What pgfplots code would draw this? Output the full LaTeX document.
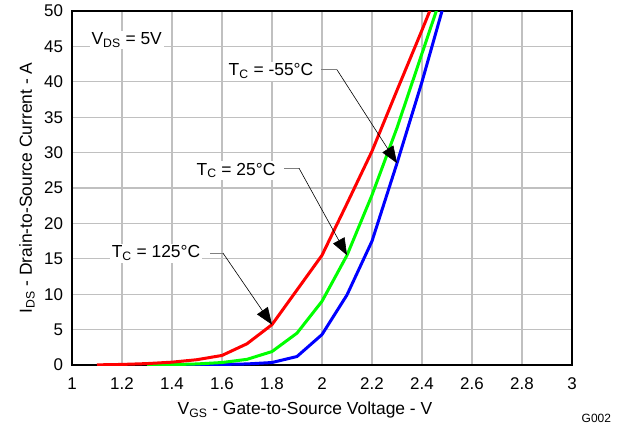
\documentclass[border=0pt]{standalone}
\usepackage{fontspec}
\setmainfont{Liberation Sans}
\usepackage{pgfplots}
\pgfplotsset{compat=1.18}
\usetikzlibrary{arrows.meta}
\definecolor{gridgray}{RGB}{192,192,192}
\definecolor{cred}{RGB}{255,0,0}
\definecolor{cgreen}{RGB}{0,255,0}
\definecolor{cblue}{RGB}{0,0,255}
\begin{document}
\fontsize{17.5}{20}\selectfont
\begin{tikzpicture}
\begin{axis}[
  name=ax,
  scale only axis, width=500bp, height=354bp,
  xmin=1, xmax=3, ymin=0, ymax=50,
  xtick={1,1.2,1.4,1.6,1.8,2,2.2,2.4,2.6,2.8,3},
  ytick={0,5,10,15,20,25,30,35,40,45,50},
  /pgf/number format/assume math mode=true,
  xticklabel={\pgfmathprintnumber[fixed,precision=1]{\tick}},
  grid=major, major grid style={gridgray, line width=1.2bp},
  major tick length=0pt,
  axis line style={black, line width=2.2bp},
  tick label style={font=\fontsize{17}{20}\selectfont},
  xticklabel style={yshift=-7bp},
  yticklabel style={xshift=-3bp},
  xlabel={V\textsubscript{GS} - Gate-to-Source Voltage - V},
  ylabel={I\textsubscript{DS} - Drain-to-Source Current - A},
  every axis x label/.style={at={(rel axis cs:0.5,0)}, anchor=center, yshift=-45bp, xshift=-17bp},
  every axis y label/.style={at={(rel axis cs:0,0.5)}, xshift=-45bp, rotate=90, anchor=center},
  label style={font=\fontsize{17.5}{20}\selectfont},
  clip=true,
]
\addplot[cblue, line width=3bp] coordinates {
(1.3,0.01)(1.4,0.02)(1.5,0.04)(1.6,0.08)(1.7,0.15)(1.8,0.35)(1.9,1.2)(2.0,4.3)(2.1,9.9)(2.2,17.5)(2.3,28.5)(2.4,40.0)(2.5,52.5)};
\addplot[cgreen, line width=3bp] coordinates {
(1.3,0.02)(1.4,0.05)(1.5,0.15)(1.6,0.35)(1.7,0.8)(1.8,1.9)(1.9,4.5)(2.0,9.0)(2.1,15.5)(2.2,24.0)(2.3,33.5)(2.4,44.0)(2.5,54.5)};
\addplot[cred, line width=3bp] coordinates {
(1.1,0.02)(1.2,0.08)(1.3,0.2)(1.4,0.4)(1.5,0.75)(1.6,1.35)(1.7,3.0)(1.8,5.7)(1.9,10.6)(2.0,15.5)(2.1,22.8)(2.2,30.2)(2.3,38.8)(2.4,47.3)(2.5,56)};
\node[fill=white, inner sep=2bp] at (axis cs:1.219,45.9) {V\textsubscript{DS} = 5V};
\node[fill=white, inner sep=2bp] at (axis cs:1.796,41.5) {T\textsubscript{C} = -55°C};
\node[fill=white, inner sep=2bp] at (axis cs:1.656,27.5) {T\textsubscript{C} = 25°C};
\node[fill=white, inner sep=2bp] at (axis cs:1.336,15.8) {T\textsubscript{C} = 125°C};
\draw[gray, line width=1bp] (axis cs:1.996,41.7) -- (axis cs:2.06,41.7);
\draw[black, line width=0.6bp, -{Triangle[length=17bp,width=13bp]}] (axis cs:2.06,41.7) -- (axis cs:2.3,28.5);
\draw[gray, line width=1bp] (axis cs:1.848,27.8) -- (axis cs:1.908,27.8);
\draw[black, line width=0.6bp, -{Triangle[length=17bp,width=13bp]}] (axis cs:1.908,27.8) -- (axis cs:2.1,15.5);
\draw[gray, line width=1bp] (axis cs:1.552,15.8) -- (axis cs:1.604,15.8);
\draw[black, line width=0.6bp, -{Triangle[length=17bp,width=13bp]}] (axis cs:1.604,15.8) -- (axis cs:1.8,5.7);
\end{axis}
\node[font=\fontsize{12}{14}\selectfont, anchor=east] at ([shift={(45bp,-53bp)}]ax.south east) {G002};
\pgfresetboundingbox
\path[use as bounding box] ([shift={(-72bp,-63bp)}]ax.south west) rectangle ([shift={(45bp,11bp)}]ax.north east);
\end{tikzpicture}
\end{document}
